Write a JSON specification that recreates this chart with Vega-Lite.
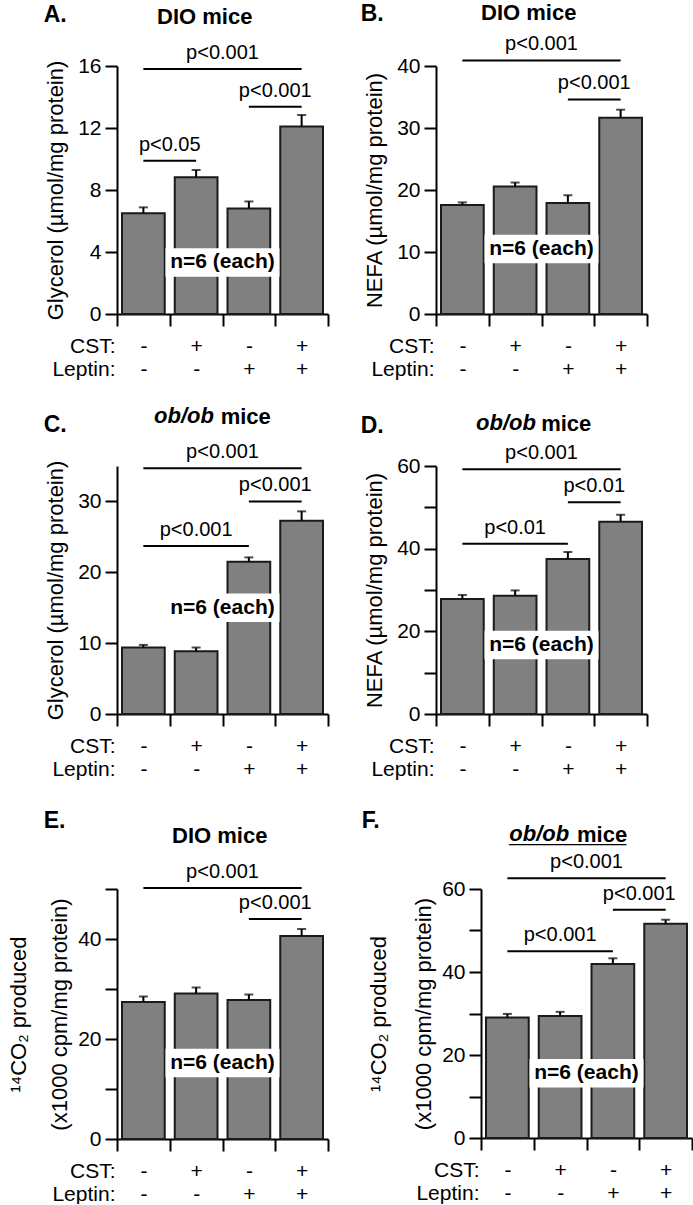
{
"$schema": "https://vega.github.io/schema/vega-lite/v6.json",
"background": "white",
"padding": {"left": 7, "top": 2, "right": 0, "bottom": 0},
"config": {
 "font": "Liberation Sans",
 "view": {"stroke": null},
 "axis": {"domainColor": "#000", "domainWidth": 2, "tickColor": "#000", "tickWidth": 2, "tickSize": 12, "labelFontSize": 21, "labelColor": "#000", "titleFontSize": 22, "titleFontWeight": "normal", "titleColor": "#000", "grid": false},
 "axisY": {"labelPadding": 4, "titlePadding": 10},
 "axisX": {"labelAngle": 0, "labelPadding": 9, "labelLineHeight": 23, "titleX": -2, "titleY": 21, "titleAlign": "right", "titleBaseline": "top", "titleAngle": 0, "titleFontSize": 21, "titleLineHeight": 23, "tickBand": "extent"},
 "title": {"fontSize": 22, "fontWeight": "bold", "color": "#000", "font": "Liberation Sans"},
 "bar": {"fill": "#808080", "stroke": "#1a1a1a", "strokeWidth": 2}
},
"datasets": {
 "bars": [
  {"panel":"A","cond":"-|-","mean":6.5,"upper":6.88},
  {"panel":"A","cond":"+|-","mean":8.82,"upper":9.29},
  {"panel":"A","cond":"-|+","mean":6.81,"upper":7.26},
  {"panel":"A","cond":"+|+","mean":12.1,"upper":12.84},
  {"panel":"B","cond":"-|-","mean":17.6,"upper":18.0},
  {"panel":"B","cond":"+|-","mean":20.55,"upper":21.2},
  {"panel":"B","cond":"-|+","mean":17.9,"upper":19.15},
  {"panel":"B","cond":"+|+","mean":31.66,"upper":32.95},
  {"panel":"C","cond":"-|-","mean":9.38,"upper":9.75},
  {"panel":"C","cond":"+|-","mean":8.86,"upper":9.38},
  {"panel":"C","cond":"-|+","mean":21.47,"upper":22.1},
  {"panel":"C","cond":"+|+","mean":27.28,"upper":28.6},
  {"panel":"D","cond":"-|-","mean":27.8,"upper":28.8},
  {"panel":"D","cond":"+|-","mean":28.6,"upper":29.9},
  {"panel":"D","cond":"-|+","mean":37.5,"upper":39.2},
  {"panel":"D","cond":"+|+","mean":46.5,"upper":48.2},
  {"panel":"E","cond":"-|-","mean":27.4,"upper":28.5},
  {"panel":"E","cond":"+|-","mean":29.1,"upper":30.3},
  {"panel":"E","cond":"-|+","mean":27.8,"upper":28.9},
  {"panel":"E","cond":"+|+","mean":40.6,"upper":42.0},
  {"panel":"F","cond":"-|-","mean":29.06,"upper":29.9},
  {"panel":"F","cond":"+|-","mean":29.4,"upper":30.4},
  {"panel":"F","cond":"-|+","mean":41.9,"upper":43.3},
  {"panel":"F","cond":"+|+","mean":51.6,"upper":52.6}
 ],
 "sigs": [
  {"panel":"A","from":"-|-","to":"+|+","y":15.8,"p":"p<0.001","gap":"+|-"},
  {"panel":"A","from":"-|+","to":"+|+","y":13.37,"p":"p<0.001","gap":"-|+"},
  {"panel":"A","from":"-|-","to":"+|-","y":9.89,"p":"p<0.05","gap":"-|-"},
  {"panel":"B","from":"-|-","to":"+|+","y":40.9,"p":"p<0.001","gap":"+|-"},
  {"panel":"B","from":"-|+","to":"+|+","y":34.6,"p":"p<0.001","gap":"-|+"},
  {"panel":"C","from":"-|-","to":"+|+","y":34.7,"p":"p<0.001","gap":"+|-"},
  {"panel":"C","from":"-|+","to":"+|+","y":30.0,"p":"p<0.001","gap":"-|+"},
  {"panel":"C","from":"-|-","to":"-|+","y":23.7,"p":"p<0.001","bar":"+|-"},
  {"panel":"D","from":"-|-","to":"+|+","y":59.2,"p":"p<0.001","gap":"+|-"},
  {"panel":"D","from":"-|+","to":"+|+","y":51.2,"p":"p<0.01","gap":"-|+"},
  {"panel":"D","from":"-|-","to":"-|+","y":41.2,"p":"p<0.01","bar":"+|-"},
  {"panel":"E","from":"-|-","to":"+|+","y":50.2,"p":"p<0.001","gap":"+|-"},
  {"panel":"E","from":"-|+","to":"+|+","y":44.0,"p":"p<0.001","gap":"-|+"},
  {"panel":"F","from":"-|-","to":"+|+","y":62.6,"p":"p<0.001","gap":"+|-"},
  {"panel":"F","from":"-|+","to":"+|+","y":55.0,"p":"p<0.001","gap":"-|+"},
  {"panel":"F","from":"-|-","to":"-|+","y":45.0,"p":"p<0.001","bar":"+|-"}
 ],
 "notes": [
  {"panel":"A","at":"+|-","y":3.33,"text":"n=6 (each)"},
  {"panel":"B","at":"+|-","y":10.5,"text":"n=6 (each)"},
  {"panel":"C","at":"+|-","y":15.0,"text":"n=6 (each)"},
  {"panel":"D","at":"+|-","y":16.7,"text":"n=6 (each)"},
  {"panel":"E","at":"+|-","y":15.2,"text":"n=6 (each)"},
  {"panel":"F","at":"+|-","y":15.6,"text":"n=6 (each)"}
 ]
},
"spacing": 26,
"vconcat": [
 {"spacing": 31, "hconcat": [
  {"title": {"text": "A.", "anchor": "start", "frame": "bounds", "fontSize": 23, "offset": -21, "dx": 36},
   "vconcat": [{
    "title": {"text": "DIO mice", "anchor": "start", "frame": "group", "dx": 40, "offset": 14},
    "width": 211, "height": 248,
    "layer": [
     {"data": {"name": "bars"}, "transform": [{"filter": "datum.panel === 'A'"}],
      "mark": {"type": "bar", "width": {"band": 0.81}},
      "encoding": {
       "x": {"field": "cond", "type": "nominal", "sort": null, "scale": {"domain": ["-|-","+|-","-|+","+|+"], "paddingInner": 0, "paddingOuter": 0}, "axis": {"title": ["CST:", "Leptin:"], "labelExpr": "isString(datum.value) ? split(datum.value, '|') : ''"}},
       "y": {"field": "mean", "type": "quantitative", "scale": {"domain": [0, 16], "nice": false}, "axis": {"title": ["", "Glycerol (µmol/mg protein)"], "titleLineHeight": 37, "values": [0,2,4,6,8,10,12,14,16], "labelExpr": "datum.value % 4 === 0 ? datum.label : ''"}}
      }},
     {"data": {"name": "bars"}, "transform": [{"filter": "datum.panel === 'A'"}],
      "mark": {"type": "rule", "color": "#000", "strokeWidth": 2},
      "encoding": {"x": {"field": "cond", "type": "nominal"}, "y": {"field": "mean", "type": "quantitative"}, "y2": {"field": "upper"}}},
     {"data": {"name": "bars"}, "transform": [{"filter": "datum.panel === 'A'"}],
      "mark": {"type": "tick", "orient": "horizontal", "size": 9, "thickness": 2, "color": "#000"},
      "encoding": {"x": {"field": "cond", "type": "nominal"}, "y": {"field": "upper", "type": "quantitative"}}},
     {"data": {"name": "sigs"}, "transform": [{"filter": "datum.panel === 'A'"}],
      "mark": {"type": "rule", "color": "#000", "strokeWidth": 2},
      "encoding": {"x": {"field": "from", "type": "nominal"}, "x2": {"field": "to"}, "y": {"field": "y", "type": "quantitative"}}},
     {"data": {"name": "sigs"}, "transform": [{"filter": "datum.panel === 'A' && isValid(datum.gap)"}],
      "mark": {"type": "text", "fontSize": 20, "baseline": "alphabetic", "dy": -10, "color": "#000"},
      "encoding": {"x": {"field": "gap", "type": "nominal", "bandPosition": 1}, "y": {"field": "y", "type": "quantitative"}, "text": {"field": "p"}}},
     {"data": {"name": "notes"}, "transform": [{"filter": "datum.panel === 'A'"}],
      "mark": {"type": "point", "shape": "M-1,-0.25L1,-0.25L1,0.25L-1,0.25Z", "size": 12996, "filled": true, "fill": "#fff", "opacity": 1, "strokeWidth": 0},
      "encoding": {"x": {"field": "at", "type": "nominal", "bandPosition": 1}, "y": {"field": "y", "type": "quantitative"}}},
     {"data": {"name": "notes"}, "transform": [{"filter": "datum.panel === 'A'"}],
      "mark": {"type": "text", "fontSize": 21, "fontWeight": "bold", "baseline": "middle", "color": "#000"},
      "encoding": {"x": {"field": "at", "type": "nominal", "bandPosition": 1}, "y": {"field": "y", "type": "quantitative"}, "text": {"field": "text"}}}
    ]
   }]
  },
  {"title": {"text": "B.", "anchor": "start", "frame": "bounds", "fontSize": 23, "offset": -24, "dx": -3},
   "vconcat": [{
    "title": {"text": "DIO mice", "anchor": "start", "frame": "group", "dx": 45, "offset": 9},
    "width": 211, "height": 248,
    "layer": [
     {"data": {"name": "bars"}, "transform": [{"filter": "datum.panel === 'B'"}],
      "mark": {"type": "bar", "width": {"band": 0.81}},
      "encoding": {
       "x": {"field": "cond", "type": "nominal", "sort": null, "scale": {"domain": ["-|-","+|-","-|+","+|+"], "paddingInner": 0, "paddingOuter": 0}, "axis": {"title": ["CST:", "Leptin:"], "labelExpr": "isString(datum.value) ? split(datum.value, '|') : ''"}},
       "y": {"field": "mean", "type": "quantitative", "scale": {"domain": [0, 40], "nice": false}, "axis": {"title": "NEFA (µmol/mg protein)", "values": [0,5,10,15,20,25,30,35,40], "labelExpr": "datum.value % 10 === 0 ? datum.label : ''"}}
      }},
     {"data": {"name": "bars"}, "transform": [{"filter": "datum.panel === 'B'"}],
      "mark": {"type": "rule", "color": "#000", "strokeWidth": 2},
      "encoding": {"x": {"field": "cond", "type": "nominal"}, "y": {"field": "mean", "type": "quantitative"}, "y2": {"field": "upper"}}},
     {"data": {"name": "bars"}, "transform": [{"filter": "datum.panel === 'B'"}],
      "mark": {"type": "tick", "orient": "horizontal", "size": 9, "thickness": 2, "color": "#000"},
      "encoding": {"x": {"field": "cond", "type": "nominal"}, "y": {"field": "upper", "type": "quantitative"}}},
     {"data": {"name": "sigs"}, "transform": [{"filter": "datum.panel === 'B'"}],
      "mark": {"type": "rule", "color": "#000", "strokeWidth": 2},
      "encoding": {"x": {"field": "from", "type": "nominal"}, "x2": {"field": "to"}, "y": {"field": "y", "type": "quantitative"}}},
     {"data": {"name": "sigs"}, "transform": [{"filter": "datum.panel === 'B' && isValid(datum.gap)"}],
      "mark": {"type": "text", "fontSize": 20, "baseline": "alphabetic", "dy": -10, "color": "#000"},
      "encoding": {"x": {"field": "gap", "type": "nominal", "bandPosition": 1}, "y": {"field": "y", "type": "quantitative"}, "text": {"field": "p"}}},
     {"data": {"name": "notes"}, "transform": [{"filter": "datum.panel === 'B'"}],
      "mark": {"type": "point", "shape": "M-1,-0.25L1,-0.25L1,0.25L-1,0.25Z", "size": 12996, "filled": true, "fill": "#fff", "opacity": 1, "strokeWidth": 0},
      "encoding": {"x": {"field": "at", "type": "nominal", "bandPosition": 1}, "y": {"field": "y", "type": "quantitative"}}},
     {"data": {"name": "notes"}, "transform": [{"filter": "datum.panel === 'B'"}],
      "mark": {"type": "text", "fontSize": 21, "fontWeight": "bold", "baseline": "middle", "color": "#000"},
      "encoding": {"x": {"field": "at", "type": "nominal", "bandPosition": 1}, "y": {"field": "y", "type": "quantitative"}, "text": {"field": "text"}}}
    ]
   }]
  }
 ]},
 {"spacing": 31, "vconcat": [
 {"spacing": 31, "hconcat": [
  {"title": {"text": "C.", "anchor": "start", "frame": "bounds", "fontSize": 23, "offset": -32, "dx": 36},
   "vconcat": [{
    "title": {"text": "mice", "anchor": "start", "frame": "bounds", "dx": 213, "offset": -24},
    "vconcat": [{
    "title": {"text": "ob/ob", "fontStyle": "italic", "anchor": "start", "frame": "group", "dx": 37, "offset": 14},
    "width": 211, "height": 248,
    "layer": [
     {"data": {"name": "bars"}, "transform": [{"filter": "datum.panel === 'C'"}],
      "mark": {"type": "bar", "width": {"band": 0.81}},
      "encoding": {
       "x": {"field": "cond", "type": "nominal", "sort": null, "scale": {"domain": ["-|-","+|-","-|+","+|+"], "paddingInner": 0, "paddingOuter": 0}, "axis": {"title": ["CST:", "Leptin:"], "labelExpr": "isString(datum.value) ? split(datum.value, '|') : ''"}},
       "y": {"field": "mean", "type": "quantitative", "scale": {"domain": [0, 35], "nice": false}, "axis": {"title": ["", "Glycerol (µmol/mg protein)"], "titleLineHeight": 37, "values": [0,5,10,15,20,25,30,35], "labelExpr": "datum.value % 10 === 0 ? datum.label : ''"}}
      }},
     {"data": {"name": "bars"}, "transform": [{"filter": "datum.panel === 'C'"}],
      "mark": {"type": "rule", "color": "#000", "strokeWidth": 2},
      "encoding": {"x": {"field": "cond", "type": "nominal"}, "y": {"field": "mean", "type": "quantitative"}, "y2": {"field": "upper"}}},
     {"data": {"name": "bars"}, "transform": [{"filter": "datum.panel === 'C'"}],
      "mark": {"type": "tick", "orient": "horizontal", "size": 9, "thickness": 2, "color": "#000"},
      "encoding": {"x": {"field": "cond", "type": "nominal"}, "y": {"field": "upper", "type": "quantitative"}}},
     {"data": {"name": "sigs"}, "transform": [{"filter": "datum.panel === 'C'"}],
      "mark": {"type": "rule", "color": "#000", "strokeWidth": 2},
      "encoding": {"x": {"field": "from", "type": "nominal"}, "x2": {"field": "to"}, "y": {"field": "y", "type": "quantitative"}}},
     {"data": {"name": "sigs"}, "transform": [{"filter": "datum.panel === 'C' && isValid(datum.gap)"}],
      "mark": {"type": "text", "fontSize": 20, "baseline": "alphabetic", "dy": -10, "color": "#000"},
      "encoding": {"x": {"field": "gap", "type": "nominal", "bandPosition": 1}, "y": {"field": "y", "type": "quantitative"}, "text": {"field": "p"}}},
     {"data": {"name": "sigs"}, "transform": [{"filter": "datum.panel === 'C' && isValid(datum.bar)"}],
      "mark": {"type": "text", "fontSize": 20, "baseline": "alphabetic", "dy": -10, "color": "#000"},
      "encoding": {"x": {"field": "bar", "type": "nominal"}, "y": {"field": "y", "type": "quantitative"}, "text": {"field": "p"}}},
     {"data": {"name": "notes"}, "transform": [{"filter": "datum.panel === 'C'"}],
      "mark": {"type": "point", "shape": "M-1,-0.25L1,-0.25L1,0.25L-1,0.25Z", "size": 12996, "filled": true, "fill": "#fff", "opacity": 1, "strokeWidth": 0},
      "encoding": {"x": {"field": "at", "type": "nominal", "bandPosition": 1}, "y": {"field": "y", "type": "quantitative"}}},
     {"data": {"name": "notes"}, "transform": [{"filter": "datum.panel === 'C'"}],
      "mark": {"type": "text", "fontSize": 21, "fontWeight": "bold", "baseline": "middle", "color": "#000"},
      "encoding": {"x": {"field": "at", "type": "nominal", "bandPosition": 1}, "y": {"field": "y", "type": "quantitative"}, "text": {"field": "text"}}}
    ]
   }]
   }]
  },
  {"title": {"text": "D.", "anchor": "start", "frame": "bounds", "fontSize": 23, "offset": -26, "dx": -3},
   "vconcat": [{
    "title": {"text": "mice", "anchor": "start", "frame": "bounds", "dx": 177.5, "offset": -24},
    "vconcat": [{
    "title": {"text": "ob/ob", "fontStyle": "italic", "anchor": "start", "frame": "group", "dx": 40, "offset": 8},
    "width": 211, "height": 248,
    "layer": [
     {"data": {"name": "bars"}, "transform": [{"filter": "datum.panel === 'D'"}],
      "mark": {"type": "bar", "width": {"band": 0.81}},
      "encoding": {
       "x": {"field": "cond", "type": "nominal", "sort": null, "scale": {"domain": ["-|-","+|-","-|+","+|+"], "paddingInner": 0, "paddingOuter": 0}, "axis": {"title": ["CST:", "Leptin:"], "labelExpr": "isString(datum.value) ? split(datum.value, '|') : ''"}},
       "y": {"field": "mean", "type": "quantitative", "scale": {"domain": [0, 60], "nice": false}, "axis": {"title": "NEFA (µmol/mg protein)", "values": [0,10,20,30,40,50,60], "labelExpr": "datum.value % 20 === 0 ? datum.label : ''"}}
      }},
     {"data": {"name": "bars"}, "transform": [{"filter": "datum.panel === 'D'"}],
      "mark": {"type": "rule", "color": "#000", "strokeWidth": 2},
      "encoding": {"x": {"field": "cond", "type": "nominal"}, "y": {"field": "mean", "type": "quantitative"}, "y2": {"field": "upper"}}},
     {"data": {"name": "bars"}, "transform": [{"filter": "datum.panel === 'D'"}],
      "mark": {"type": "tick", "orient": "horizontal", "size": 9, "thickness": 2, "color": "#000"},
      "encoding": {"x": {"field": "cond", "type": "nominal"}, "y": {"field": "upper", "type": "quantitative"}}},
     {"data": {"name": "sigs"}, "transform": [{"filter": "datum.panel === 'D'"}],
      "mark": {"type": "rule", "color": "#000", "strokeWidth": 2},
      "encoding": {"x": {"field": "from", "type": "nominal"}, "x2": {"field": "to"}, "y": {"field": "y", "type": "quantitative"}}},
     {"data": {"name": "sigs"}, "transform": [{"filter": "datum.panel === 'D' && isValid(datum.gap)"}],
      "mark": {"type": "text", "fontSize": 20, "baseline": "alphabetic", "dy": -10, "color": "#000"},
      "encoding": {"x": {"field": "gap", "type": "nominal", "bandPosition": 1}, "y": {"field": "y", "type": "quantitative"}, "text": {"field": "p"}}},
     {"data": {"name": "sigs"}, "transform": [{"filter": "datum.panel === 'D' && isValid(datum.bar)"}],
      "mark": {"type": "text", "fontSize": 20, "baseline": "alphabetic", "dy": -10, "color": "#000"},
      "encoding": {"x": {"field": "bar", "type": "nominal"}, "y": {"field": "y", "type": "quantitative"}, "text": {"field": "p"}}},
     {"data": {"name": "notes"}, "transform": [{"filter": "datum.panel === 'D'"}],
      "mark": {"type": "point", "shape": "M-1,-0.25L1,-0.25L1,0.25L-1,0.25Z", "size": 12996, "filled": true, "fill": "#fff", "opacity": 1, "strokeWidth": 0},
      "encoding": {"x": {"field": "at", "type": "nominal", "bandPosition": 1}, "y": {"field": "y", "type": "quantitative"}}},
     {"data": {"name": "notes"}, "transform": [{"filter": "datum.panel === 'D'"}],
      "mark": {"type": "text", "fontSize": 21, "fontWeight": "bold", "baseline": "middle", "color": "#000"},
      "encoding": {"x": {"field": "at", "type": "nominal", "bandPosition": 1}, "y": {"field": "y", "type": "quantitative"}, "text": {"field": "text"}}}
    ]
   }]
   }]
  }
 ]},
 {"spacing": 32, "hconcat": [
  {"title": {"text": "E.", "anchor": "start", "frame": "bounds", "fontSize": 23, "offset": -8, "dx": 36},
   "vconcat": [{
    "title": {"text": "DIO mice", "anchor": "start", "frame": "group", "dx": 55, "offset": 14},
    "width": 211, "height": 250,
    "layer": [
     {"data": {"name": "bars"}, "transform": [{"filter": "datum.panel === 'E'"}],
      "mark": {"type": "bar", "width": {"band": 0.81}},
      "encoding": {
       "x": {"field": "cond", "type": "nominal", "sort": null, "scale": {"domain": ["-|-","+|-","-|+","+|+"], "paddingInner": 0, "paddingOuter": 0}, "axis": {"title": ["CST:", "Leptin:"], "labelExpr": "isString(datum.value) ? split(datum.value, '|') : ''"}},
       "y": {"field": "mean", "type": "quantitative", "scale": {"domain": [0, 50], "nice": false}, "axis": {"title": ["¹⁴CO₂ produced", "(x1000 cpm/mg protein)"], "titleLineHeight": 41, "titlePadding": 6, "values": [0,10,20,30,40,50], "labelExpr": "datum.value % 20 === 0 ? datum.label : ''"}}
      }},
     {"data": {"name": "bars"}, "transform": [{"filter": "datum.panel === 'E'"}],
      "mark": {"type": "rule", "color": "#000", "strokeWidth": 2},
      "encoding": {"x": {"field": "cond", "type": "nominal"}, "y": {"field": "mean", "type": "quantitative"}, "y2": {"field": "upper"}}},
     {"data": {"name": "bars"}, "transform": [{"filter": "datum.panel === 'E'"}],
      "mark": {"type": "tick", "orient": "horizontal", "size": 9, "thickness": 2, "color": "#000"},
      "encoding": {"x": {"field": "cond", "type": "nominal"}, "y": {"field": "upper", "type": "quantitative"}}},
     {"data": {"name": "sigs"}, "transform": [{"filter": "datum.panel === 'E'"}],
      "mark": {"type": "rule", "color": "#000", "strokeWidth": 2},
      "encoding": {"x": {"field": "from", "type": "nominal"}, "x2": {"field": "to"}, "y": {"field": "y", "type": "quantitative"}}},
     {"data": {"name": "sigs"}, "transform": [{"filter": "datum.panel === 'E' && isValid(datum.gap)"}],
      "mark": {"type": "text", "fontSize": 20, "baseline": "alphabetic", "dy": -10, "color": "#000"},
      "encoding": {"x": {"field": "gap", "type": "nominal", "bandPosition": 1}, "y": {"field": "y", "type": "quantitative"}, "text": {"field": "p"}}},
     {"data": {"name": "notes"}, "transform": [{"filter": "datum.panel === 'E'"}],
      "mark": {"type": "point", "shape": "M-1,-0.25L1,-0.25L1,0.25L-1,0.25Z", "size": 12996, "filled": true, "fill": "#fff", "opacity": 1, "strokeWidth": 0},
      "encoding": {"x": {"field": "at", "type": "nominal", "bandPosition": 1}, "y": {"field": "y", "type": "quantitative"}}},
     {"data": {"name": "notes"}, "transform": [{"filter": "datum.panel === 'E'"}],
      "mark": {"type": "text", "fontSize": 21, "fontWeight": "bold", "baseline": "middle", "color": "#000"},
      "encoding": {"x": {"field": "at", "type": "nominal", "bandPosition": 1}, "y": {"field": "y", "type": "quantitative"}, "text": {"field": "text"}}}
    ]
   }]
  },
  {"title": {"text": "F.", "anchor": "start", "frame": "bounds", "fontSize": 23, "offset": -10, "dx": -6},
   "vconcat": [{
    "title": {"text": "mice", "anchor": "start", "frame": "bounds", "dx": 209.4, "offset": -24},
    "vconcat": [{
    "title": {"text": "ob/ob", "subtitle": "__________", "fontStyle": "italic", "anchor": "start", "frame": "group", "dx": 28.3, "offset": 6, "subtitleFontSize": 21, "subtitleFontWeight": "normal", "subtitleFontStyle": "normal", "subtitleColor": "#000", "subtitleFont": "Liberation Sans", "subtitlePadding": -22},
    "width": 211, "height": 249,
    "layer": [
     {"data": {"name": "bars"}, "transform": [{"filter": "datum.panel === 'F'"}],
      "mark": {"type": "bar", "width": {"band": 0.81}},
      "encoding": {
       "x": {"field": "cond", "type": "nominal", "sort": null, "scale": {"domain": ["-|-","+|-","-|+","+|+"], "paddingInner": 0, "paddingOuter": 0}, "axis": {"title": ["CST:", "Leptin:"], "labelExpr": "isString(datum.value) ? split(datum.value, '|') : ''"}},
       "y": {"field": "mean", "type": "quantitative", "scale": {"domain": [0, 60], "nice": false}, "axis": {"title": ["¹⁴CO₂ produced", "(x1000 cpm/mg protein)"], "titleLineHeight": 45, "titlePadding": 6, "values": [0,10,20,30,40,50,60], "labelExpr": "datum.value % 20 === 0 ? datum.label : ''"}}
      }},
     {"data": {"name": "bars"}, "transform": [{"filter": "datum.panel === 'F'"}],
      "mark": {"type": "rule", "color": "#000", "strokeWidth": 2},
      "encoding": {"x": {"field": "cond", "type": "nominal"}, "y": {"field": "mean", "type": "quantitative"}, "y2": {"field": "upper"}}},
     {"data": {"name": "bars"}, "transform": [{"filter": "datum.panel === 'F'"}],
      "mark": {"type": "tick", "orient": "horizontal", "size": 9, "thickness": 2, "color": "#000"},
      "encoding": {"x": {"field": "cond", "type": "nominal"}, "y": {"field": "upper", "type": "quantitative"}}},
     {"data": {"name": "sigs"}, "transform": [{"filter": "datum.panel === 'F'"}],
      "mark": {"type": "rule", "color": "#000", "strokeWidth": 2},
      "encoding": {"x": {"field": "from", "type": "nominal"}, "x2": {"field": "to"}, "y": {"field": "y", "type": "quantitative"}}},
     {"data": {"name": "sigs"}, "transform": [{"filter": "datum.panel === 'F' && isValid(datum.gap)"}],
      "mark": {"type": "text", "fontSize": 20, "baseline": "alphabetic", "dy": -10, "color": "#000"},
      "encoding": {"x": {"field": "gap", "type": "nominal", "bandPosition": 1}, "y": {"field": "y", "type": "quantitative"}, "text": {"field": "p"}}},
     {"data": {"name": "sigs"}, "transform": [{"filter": "datum.panel === 'F' && isValid(datum.bar)"}],
      "mark": {"type": "text", "fontSize": 20, "baseline": "alphabetic", "dy": -10, "color": "#000"},
      "encoding": {"x": {"field": "bar", "type": "nominal"}, "y": {"field": "y", "type": "quantitative"}, "text": {"field": "p"}}},
     {"data": {"name": "notes"}, "transform": [{"filter": "datum.panel === 'F'"}],
      "mark": {"type": "point", "shape": "M-1,-0.25L1,-0.25L1,0.25L-1,0.25Z", "size": 12996, "filled": true, "fill": "#fff", "opacity": 1, "strokeWidth": 0},
      "encoding": {"x": {"field": "at", "type": "nominal", "bandPosition": 1}, "y": {"field": "y", "type": "quantitative"}}},
     {"data": {"name": "notes"}, "transform": [{"filter": "datum.panel === 'F'"}],
      "mark": {"type": "text", "fontSize": 21, "fontWeight": "bold", "baseline": "middle", "color": "#000"},
      "encoding": {"x": {"field": "at", "type": "nominal", "bandPosition": 1}, "y": {"field": "y", "type": "quantitative"}, "text": {"field": "text"}}}
    ]
   }]
   }]
  }
 ]}
 ]}
]
}
